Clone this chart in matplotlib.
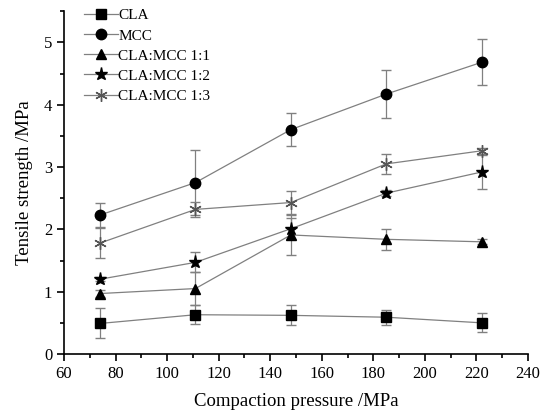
import matplotlib
matplotlib.use("Agg")
import matplotlib.pyplot as plt
from matplotlib.lines import Line2D
from matplotlib.ticker import MultipleLocator

plt.rcParams["font.family"] = ["Liberation Serif", "DejaVu Serif"]

# Compaction pressure (MPa) and tensile strength (MPa) with standard deviations
pressure = [74, 111, 148, 185, 222]

cla = [0.49, 0.63, 0.62, 0.59, 0.50]
cla_err = [0.24, 0.15, 0.16, 0.12, 0.15]

mcc = [2.23, 2.75, 3.60, 4.17, 4.68]
mcc_err = [0.20, 0.52, 0.27, 0.38, 0.37]

mix_11 = [0.97, 1.05, 1.91, 1.84, 1.80]
mix_11_err = [0.06, 0.27, 0.32, 0.17, 0.04]

mix_12 = [1.20, 1.47, 2.01, 2.58, 2.92]
mix_12_err = [0.03, 0.16, 0.17, 0.05, 0.28]

mix_13 = [1.78, 2.32, 2.43, 3.05, 3.26]
mix_13_err = [0.24, 0.12, 0.18, 0.16, 0.05]

asterisk = (6, 2, 0)
series = [
    ("CLA", cla, cla_err, "s", 6.5, "black"),
    ("MCC", mcc, mcc_err, "o", 7.5, "black"),
    ("CLA:MCC 1:1", mix_11, mix_11_err, "^", 7.5, "black"),
    ("CLA:MCC 1:2", mix_12, mix_12_err, "*", 9.5, "black"),
    ("CLA:MCC 1:3", mix_13, mix_13_err, asterisk, 9, "#555555"),
]

fig = plt.figure(figsize=(5.44, 4.12), dpi=100)
ax = fig.add_axes([0.1176, 0.1408, 0.853, 0.832])

handles = []
for name, vals, err, mk, ms, mc in series:
    ax.errorbar(pressure, vals, yerr=err, color="#808080", lw=0.9,
                elinewidth=0.9, capsize=3.5, capthick=0.9,
                marker=mk, ms=ms, mfc="black", mec=mc, mew=1.0)
    handles.append(Line2D([], [], color="#808080", lw=0.9, marker=mk,
                          ms=ms, mfc="black", mec=mc, mew=1.0, label=name))

ax.set_xlim(60, 240)
ax.set_ylim(0, 5.5)
ax.xaxis.set_major_locator(MultipleLocator(20))
ax.xaxis.set_minor_locator(MultipleLocator(10))
ax.yaxis.set_major_locator(MultipleLocator(1))
ax.yaxis.set_minor_locator(MultipleLocator(0.5))
ax.tick_params(which="both", direction="out", labelsize=12, width=1.2)
ax.tick_params(which="major", length=5)
ax.tick_params(which="minor", length=3)

for side in ["top", "right"]:
    ax.spines[side].set_visible(False)
for side in ["left", "bottom"]:
    ax.spines[side].set_linewidth(1.2)

ax.set_xlabel("Compaction pressure /MPa", fontsize=13.5, labelpad=8)
ax.set_ylabel("Tensile strength /MPa", fontsize=13.5, labelpad=8)

ax.legend(handles=handles, loc="upper left", bbox_to_anchor=(0.03, 1.025),
          borderaxespad=0, frameon=False, fontsize=11, handlelength=2.2,
          handletextpad=0.05, labelspacing=0.42)

fig.savefig("out.png", dpi=100)
